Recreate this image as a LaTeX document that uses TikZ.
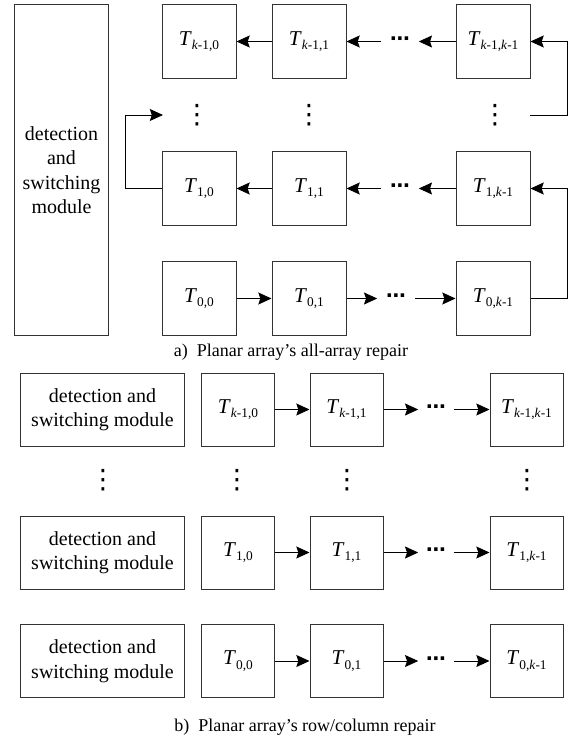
\documentclass[tikz,border=0pt]{standalone}
\usepackage{fontspec}
\setmainfont{Liberation Serif}
\newfontfamily\dotfont{DejaVu Sans}
\usetikzlibrary{arrows.meta}
\newcommand{\Tsub}[1]{\textit{T}\raisebox{-0.45ex}{\fontsize{9.5}{11}\selectfont#1}}
\newcommand{\kk}{\textit{k}}

\begin{document}
\begin{tikzpicture}[
    x=0.025cm, y=-0.025cm,
    cell/.style={rectangle, draw=black!80, line width=0.7pt, minimum width=1.85cm, minimum height=1.825cm, inner sep=0pt, font=\fontsize{15}{18}\selectfont},
    cellb/.style={cell, minimum width=1.825cm},
    module/.style={rectangle, draw=black!80, line width=0.7pt, align=center, inner sep=0pt, font=\fontsize{14.2}{17.4}\selectfont},
    vdots/.style={inner sep=0pt, font=\dotfont\fontsize{19}{21}\selectfont},
    hdots/.style={inner sep=0pt, minimum width=0.925cm, font=\dotfont\bfseries\fontsize{14}{16}\selectfont},
    arrow/.style={-{Stealth[length=0.33cm, width=0.3cm, inset=0.05cm]}, line width=0.7pt},
    caption/.style={font=\fontsize{12.8}{15}\selectfont}
]
\useasboundingbox (0,0) rectangle (574,741);

% a) all-array repair
\node[module, minimum width=2.325cm, minimum height=8.25cm] (moda) at (61.5,170) {detection\\and\\switching\\module};

% Row k-1
\node[cell] (a20) at (199,41.5) {\Tsub{\kk-1,0}};
\node[cell] (a21) at (309,41.5) {\Tsub{\kk-1,1}};
\node[hdots] (ha2) at (400,41.5) {⋯};
\node[cell] (a2k) at (493,41.5) {\Tsub{\kk-1,\kk-1}};

% Dots
\node[vdots] (va0) at (197,115) {⋮};
\node[vdots] (va1) at (309,115) {⋮};
\node[vdots] (vak) at (495,115) {⋮};
\coordinate (lin) at (163,115);
\coordinate (rin) at (530,115);

% Row 1
\node[cell] (a10) at (199,188.5) {\Tsub{1,0}};
\node[cell] (a11) at (309,188.5) {\Tsub{1,1}};
\node[hdots] (ha1) at (400,188.5) {⋯};
\node[cell] (a1k) at (493,188.5) {\Tsub{1,\kk-1}};

% Row 0
\node[cell] (a00) at (199,298.5) {\Tsub{0,0}};
\node[cell] (a01) at (309,298.5) {\Tsub{0,1}};
\node[hdots] (ha0) at (396,298.5) {⋯};
\node[cell] (a0k) at (493,298.5) {\Tsub{0,\kk-1}};

% Arrows
\draw[arrow] (a21.west) -- (a20.east);
\draw[arrow] (ha2.west) -- (a21.east);
\draw[arrow] (a2k.west) -- (ha2.east);
\draw[arrow] (a11.west) -- (a10.east);
\draw[arrow] (ha1.west) -- (a11.east);
\draw[arrow] (a1k.west) -- (ha1.east);
\draw[arrow] (a00.east) -- (a01.west);
\draw[arrow] (a01.east) -- (ha0.west);
\draw[arrow] (ha0.east) -- (a0k.west);

% Snake path
\draw[arrow] (a0k.east) -- ++(37,0) |- (a1k.east);
\draw[arrow] (rin) -- ++(37,0) |- (a2k.east);
\draw[arrow] (a10.west) -- ++(-36,0) |- (lin);

\node[caption] (capa) at (291,352) {a)\enspace Planar array’s all-array repair};

% b) row/column repair
\foreach \r/\y/\i in {2/409.5/\kk-1, 1/552.5/1, 0/661/0} {
  \node[module, minimum width=4.075cm, minimum height=1.825cm] (mb\r) at (102.5,\y) {detection and\\switching module};
  \node[cellb] (b\r0) at (238,\y) {\Tsub{\i,0}};
  \node[cellb] (b\r1) at (346.5,\y) {\Tsub{\i,1}};
  \node[hdots, minimum width=0.875cm] (hb\r) at (436,\y) {⋯};
  \node[cellb] (b\r k) at (526.5,\y) {\Tsub{\i,\kk-1}};
  \draw[arrow] (b\r0.east) -- (b\r1.west);
  \draw[arrow] (b\r1.east) -- (hb\r.west);
  \draw[arrow] (hb\r.east) -- (b\r k.west);
}

% Dots
\node[vdots] (vbm) at (103,480) {⋮};
\node[vdots] (vb0) at (237,480) {⋮};
\node[vdots] (vb1) at (347,480) {⋮};
\node[vdots] (vbk) at (527,480) {⋮};

\node[caption] (capb) at (305,727) {b)\enspace Planar array’s row/column repair};

\end{tikzpicture}
\end{document}
